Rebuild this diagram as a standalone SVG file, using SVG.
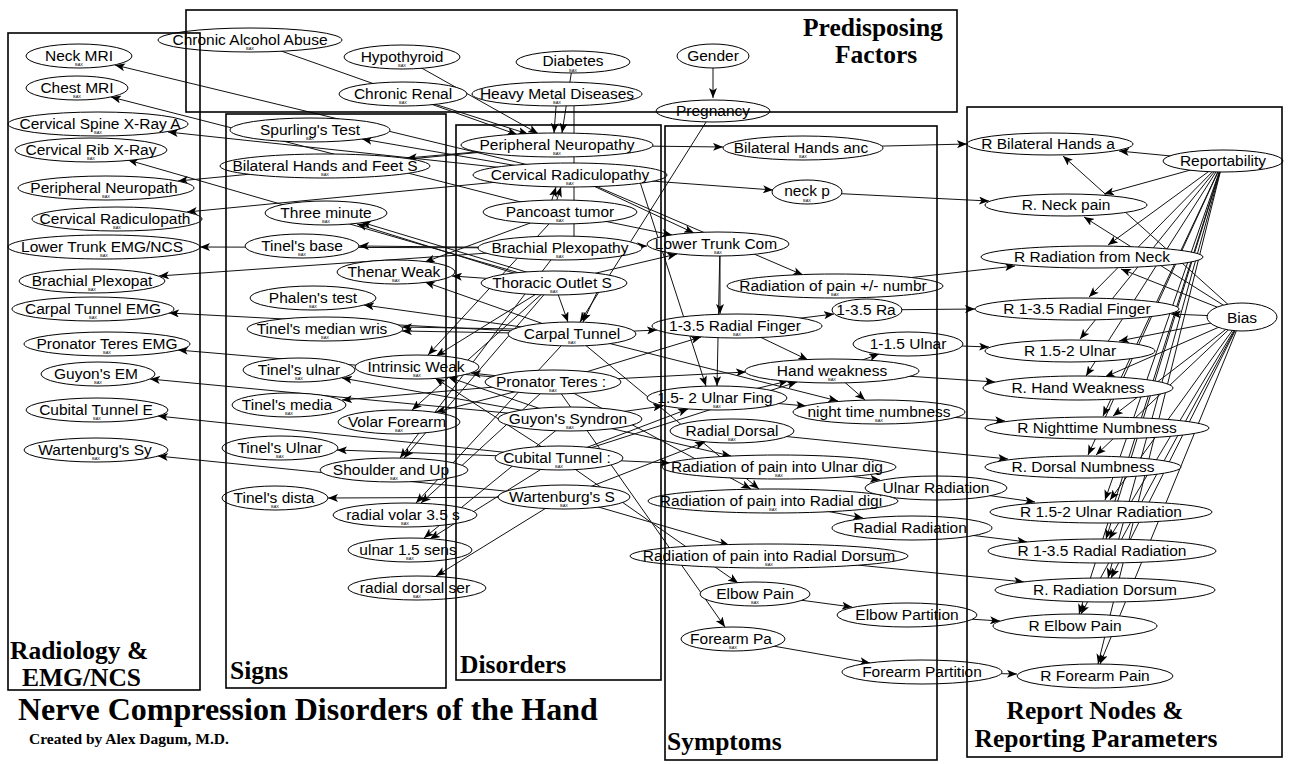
<svg xmlns="http://www.w3.org/2000/svg" width="1291" height="764" viewBox="0 0 1291 764">
<defs>
<marker id="ah" viewBox="0 0 10 8" markerUnits="userSpaceOnUse" markerWidth="10" markerHeight="8" refX="10" refY="4" orient="auto"><path d="M0,0 L10,4 L0,8 L2.5,4 Z" fill="#000"/></marker>
</defs>
<style>
.e line{stroke:#111;stroke-width:1;fill:none}
.e .a{marker-end:url(#ah)}
.n ellipse{fill:#fff;stroke:#000;stroke-width:1}
.n text{font-family:"Liberation Sans",Arial,sans-serif;font-size:15.5px;text-anchor:middle;fill:#000}
.n text.t{font-size:4px}
.box{fill:none;stroke:#000;stroke-width:1.6}
.lbl{font-family:"Liberation Serif","Times New Roman",serif;font-weight:bold;font-size:25.5px;fill:#000}
</style>
<rect width="1291" height="764" fill="#fff"/>
<g id="connectors" class="e">
<line class="a" x1="250" y1="40" x2="517" y2="134.5"/>
<line class="a" x1="402" y1="57" x2="538" y2="133.5"/>
<line class="a" x1="403" y1="94" x2="528" y2="134"/>
<line class="a" x1="573" y1="62" x2="562" y2="133"/>
<line class="a" x1="557" y1="94" x2="554" y2="133"/>
<line x1="574" y1="100" x2="574" y2="240"/>
<line class="a" x1="713" y1="56" x2="713" y2="98"/>
<line class="a" x1="713" y1="111" x2="580" y2="322"/>
<line class="a" x1="570" y1="175" x2="115" y2="65"/>
<line class="a" x1="560" y1="212" x2="111" y2="97"/>
<line class="a" x1="570" y1="175" x2="168" y2="132"/>
<line class="a" x1="554" y1="283" x2="128" y2="160"/>
<line class="a" x1="557" y1="145" x2="178" y2="181"/>
<line class="a" x1="570" y1="175" x2="187" y2="212"/>
<line class="a" x1="560" y1="248" x2="200" y2="247"/>
<line class="a" x1="560" y1="248" x2="159" y2="276"/>
<line class="a" x1="572" y1="334" x2="169" y2="313"/>
<line class="a" x1="553" y1="382" x2="178" y2="350"/>
<line class="a" x1="570" y1="419" x2="150" y2="379"/>
<line class="a" x1="559" y1="458" x2="158" y2="416"/>
<line class="a" x1="564" y1="497" x2="158" y2="456"/>
<line class="a" x1="570" y1="175" x2="362" y2="139"/>
<line class="a" x1="557" y1="145" x2="407" y2="158"/>
<line class="a" x1="552" y1="285" x2="357" y2="224"/>
<line class="a" x1="556" y1="281" x2="361" y2="222"/>
<line class="a" x1="560" y1="248" x2="359" y2="246"/>
<line class="a" x1="554" y1="283" x2="452" y2="276"/>
<line class="a" x1="572" y1="334" x2="425" y2="282"/>
<line class="a" x1="560" y1="212" x2="425" y2="262"/>
<line class="a" x1="572" y1="334" x2="364" y2="305"/>
<line class="a" x1="572" y1="334" x2="402" y2="331"/>
<line class="a" x1="572" y1="330" x2="402" y2="327"/>
<line class="a" x1="570" y1="419" x2="448" y2="377"/>
<line class="a" x1="559" y1="458" x2="435" y2="378"/>
<line class="a" x1="554" y1="283" x2="436" y2="356"/>
<line class="a" x1="560" y1="212" x2="428" y2="355"/>
<line class="a" x1="553" y1="382" x2="471" y2="373"/>
<line class="a" x1="570" y1="419" x2="342" y2="378"/>
<line class="a" x1="553" y1="382" x2="342" y2="400"/>
<line class="a" x1="553" y1="382" x2="436" y2="412"/>
<line class="a" x1="554" y1="283" x2="412" y2="410"/>
<line class="a" x1="559" y1="458" x2="337" y2="450"/>
<line class="a" x1="554" y1="283" x2="404" y2="458"/>
<line class="a" x1="560" y1="248" x2="400" y2="458"/>
<line class="a" x1="564" y1="497" x2="328" y2="498"/>
<line class="a" x1="572" y1="334" x2="416" y2="503"/>
<line class="a" x1="553" y1="382" x2="421" y2="503"/>
<line class="a" x1="570" y1="419" x2="424" y2="538"/>
<line class="a" x1="559" y1="458" x2="430" y2="539"/>
<line class="a" x1="564" y1="497" x2="436" y2="576"/>
<line class="a" x1="548" y1="212" x2="556" y2="187"/>
<line class="a" x1="553" y1="212" x2="561" y2="187"/>
<line class="a" x1="554" y1="283" x2="568" y2="322"/>
<line class="a" x1="600" y1="286" x2="583" y2="322"/>
<line class="a" x1="557" y1="145" x2="723" y2="147"/>
<line class="a" x1="803" y1="148" x2="967" y2="144"/>
<line class="a" x1="570" y1="175" x2="773" y2="190"/>
<line class="a" x1="807" y1="192" x2="989" y2="201"/>
<line class="a" x1="560" y1="248" x2="647" y2="246"/>
<line class="a" x1="560" y1="212" x2="672" y2="235"/>
<line class="a" x1="554" y1="283" x2="677" y2="254"/>
<line class="a" x1="570" y1="175" x2="694" y2="233"/>
<line class="a" x1="570" y1="175" x2="803" y2="275"/>
<line class="a" x1="720" y1="244" x2="720" y2="314"/>
<line class="a" x1="720" y1="244" x2="717" y2="386"/>
<line class="a" x1="640" y1="182" x2="706" y2="386"/>
<line class="a" x1="572" y1="334" x2="657" y2="330"/>
<line class="a" x1="553" y1="382" x2="701" y2="337"/>
<line class="a" x1="737" y1="326" x2="834" y2="314"/>
<line class="a" x1="867" y1="310" x2="975" y2="309"/>
<line class="a" x1="737" y1="326" x2="808" y2="360"/>
<line class="a" x1="832" y1="371" x2="879" y2="354"/>
<line class="a" x1="908" y1="344" x2="989" y2="347"/>
<line class="a" x1="832" y1="371" x2="865" y2="400"/>
<line class="a" x1="832" y1="371" x2="995" y2="382"/>
<line class="a" x1="717" y1="398" x2="788" y2="381"/>
<line class="a" x1="553" y1="382" x2="746" y2="372"/>
<line class="a" x1="559" y1="458" x2="797" y2="382"/>
<line class="a" x1="717" y1="398" x2="806" y2="406"/>
<line class="a" x1="879" y1="412" x2="1005" y2="421"/>
<line class="a" x1="572" y1="334" x2="838" y2="401"/>
<line class="a" x1="570" y1="419" x2="663" y2="406"/>
<line class="a" x1="559" y1="458" x2="688" y2="409"/>
<line class="a" x1="564" y1="497" x2="705" y2="442"/>
<line class="a" x1="732" y1="431" x2="1008" y2="459"/>
<line class="a" x1="559" y1="458" x2="670" y2="463"/>
<line class="a" x1="570" y1="419" x2="731" y2="456"/>
<line class="a" x1="779" y1="467" x2="880" y2="480"/>
<line class="a" x1="572" y1="334" x2="759" y2="489"/>
<line class="a" x1="553" y1="382" x2="751" y2="489"/>
<line class="a" x1="773" y1="501" x2="863" y2="518"/>
<line class="a" x1="936" y1="488" x2="1035" y2="502"/>
<line class="a" x1="912" y1="528" x2="1027" y2="542"/>
<line class="a" x1="564" y1="497" x2="729" y2="545"/>
<line class="a" x1="769" y1="556" x2="1024" y2="582"/>
<line class="a" x1="559" y1="458" x2="738" y2="583"/>
<line class="a" x1="755" y1="594" x2="852" y2="607"/>
<line class="a" x1="907" y1="615" x2="1000" y2="621"/>
<line class="a" x1="553" y1="382" x2="725" y2="627"/>
<line class="a" x1="733" y1="639" x2="870" y2="663"/>
<line class="a" x1="922" y1="672" x2="1017" y2="674"/>
<line class="a" x1="835" y1="286" x2="1015" y2="266"/>
<line class="a" x1="1223" y1="161" x2="1119" y2="151"/>
<line class="a" x1="1223" y1="161" x2="1104" y2="194"/>
<line class="a" x1="1223" y1="161" x2="1108" y2="245"/>
<line class="a" x1="1223" y1="161" x2="1089" y2="297"/>
<line class="a" x1="1223" y1="161" x2="1080" y2="339"/>
<line class="a" x1="1223" y1="161" x2="1086" y2="376"/>
<line class="a" x1="1223" y1="161" x2="1103" y2="416"/>
<line class="a" x1="1223" y1="161" x2="1088" y2="455"/>
<line class="a" x1="1223" y1="161" x2="1105" y2="500"/>
<line class="a" x1="1223" y1="161" x2="1106" y2="539"/>
<line class="a" x1="1223" y1="161" x2="1108" y2="578"/>
<line class="a" x1="1223" y1="161" x2="1079" y2="614"/>
<line class="a" x1="1223" y1="161" x2="1098" y2="664"/>
<line class="a" x1="1242" y1="317" x2="1063" y2="156"/>
<line class="a" x1="1242" y1="317" x2="1084" y2="217"/>
<line class="a" x1="1242" y1="317" x2="1121" y2="269"/>
<line class="a" x1="1242" y1="317" x2="1171" y2="314"/>
<line class="a" x1="1242" y1="317" x2="1119" y2="341"/>
<line class="a" x1="1242" y1="317" x2="1105" y2="377"/>
<line class="a" x1="1242" y1="317" x2="1113" y2="416"/>
<line class="a" x1="1242" y1="317" x2="1096" y2="455"/>
<line class="a" x1="1242" y1="317" x2="1110" y2="500"/>
<line class="a" x1="1242" y1="317" x2="1109" y2="539"/>
<line class="a" x1="1242" y1="317" x2="1111" y2="578"/>
<line class="a" x1="1242" y1="317" x2="1081" y2="614"/>
<line class="a" x1="1242" y1="317" x2="1100" y2="664"/>
</g>
<g id="nodes">
<g id="n-alcohol" class="n"><ellipse cx="250" cy="40" rx="92" ry="12"/><text x="250" y="45">Chronic Alcohol Abuse</text><text class="t" x="250" y="50">BAX</text></g>
<g id="n-hypothyroid" class="n"><ellipse cx="402" cy="57" rx="58" ry="12"/><text x="402" y="62">Hypothyroid</text><text class="t" x="402" y="67">BAX</text></g>
<g id="n-renal" class="n"><ellipse cx="403" cy="94" rx="64" ry="12"/><text x="403" y="99">Chronic Renal</text><text class="t" x="403" y="104">BAX</text></g>
<g id="n-diabetes" class="n"><ellipse cx="573" cy="62" rx="57" ry="11"/><text x="573" y="66">Diabetes</text><text class="t" x="573" y="72">BAX</text></g>
<g id="n-heavy" class="n"><ellipse cx="557" cy="94" rx="85" ry="12"/><text x="557" y="99">Heavy Metal Diseases</text><text class="t" x="557" y="104">BAX</text></g>
<g id="n-gender" class="n"><ellipse cx="713" cy="56" rx="36" ry="12"/><text x="713" y="61">Gender</text></g>
<g id="n-pregnancy" class="n"><ellipse cx="713" cy="111" rx="57" ry="11"/><text x="713" y="116">Pregnancy</text></g>
<g id="n-neckmri" class="n"><ellipse cx="79" cy="56" rx="53" ry="12"/><text x="79" y="61">Neck MRI</text><text class="t" x="79" y="66">BAX</text></g>
<g id="n-chestmri" class="n"><ellipse cx="77" cy="88" rx="51" ry="12"/><text x="77" y="93">Chest MRI</text><text class="t" x="77" y="98">BAX</text></g>
<g id="n-cspine" class="n"><ellipse cx="98" cy="124" rx="90" ry="12"/><text x="100" y="129">Cervical Spine X-Ray A</text><text class="t" x="98" y="134">BAX</text></g>
<g id="n-crib" class="n"><ellipse cx="91" cy="150" rx="76" ry="12"/><text x="91" y="155">Cervical Rib X-Ray</text><text class="t" x="91" y="160">BAX</text></g>
<g id="n-rpn" class="n"><ellipse cx="106" cy="188" rx="88" ry="12"/><text x="104" y="193">Peripheral Neuropath</text><text class="t" x="106" y="198">BAX</text></g>
<g id="n-rcr" class="n"><ellipse cx="117" cy="219" rx="85" ry="12"/><text x="115" y="224">Cervical Radiculopath</text><text class="t" x="117" y="229">BAX</text></g>
<g id="n-rlt" class="n"><ellipse cx="104" cy="247" rx="96" ry="12"/><text x="102" y="252">Lower Trunk EMG/NCS</text><text class="t" x="104" y="257">BAX</text></g>
<g id="n-rbp" class="n"><ellipse cx="92" cy="281" rx="73" ry="12"/><text x="92" y="286">Brachial Plexopat</text><text class="t" x="92" y="291">BAX</text></g>
<g id="n-rct" class="n"><ellipse cx="93" cy="309" rx="81" ry="12"/><text x="93" y="314">Carpal Tunnel EMG</text><text class="t" x="93" y="319">BAX</text></g>
<g id="n-rpt" class="n"><ellipse cx="107" cy="344" rx="83" ry="12"/><text x="107" y="349">Pronator Teres EMG</text><text class="t" x="107" y="354">BAX</text></g>
<g id="n-rguy" class="n"><ellipse cx="98" cy="374" rx="57" ry="12"/><text x="96" y="379">Guyon's EM</text><text class="t" x="98" y="384">BAX</text></g>
<g id="n-rcub" class="n"><ellipse cx="97" cy="410" rx="71" ry="12"/><text x="96" y="415">Cubital Tunnel E</text><text class="t" x="97" y="420">BAX</text></g>
<g id="n-rwar" class="n"><ellipse cx="96" cy="450" rx="72" ry="12"/><text x="95" y="455">Wartenburg's Sy</text><text class="t" x="96" y="460">BAX</text></g>
<g id="n-spurling" class="n"><ellipse cx="310" cy="130" rx="80" ry="12"/><text x="310" y="135">Spurling's Test</text><text class="t" x="310" y="140">BAX</text></g>
<g id="n-bilfeet" class="n"><ellipse cx="325" cy="166" rx="105" ry="12"/><text x="325" y="171">Bilateral Hands and Feet S</text><text class="t" x="325" y="176">BAX</text></g>
<g id="n-three" class="n"><ellipse cx="326" cy="213" rx="61" ry="12"/><text x="326" y="218">Three minute</text><text class="t" x="326" y="223">BAX</text></g>
<g id="n-tbase" class="n"><ellipse cx="302" cy="246" rx="57" ry="12"/><text x="302" y="251">Tinel's base</text><text class="t" x="302" y="256">BAX</text></g>
<g id="n-thenar" class="n"><ellipse cx="396" cy="272" rx="59" ry="12"/><text x="394" y="277">Thenar Weak</text><text class="t" x="396" y="282">BAX</text></g>
<g id="n-phalen" class="n"><ellipse cx="313" cy="298" rx="63" ry="12"/><text x="313" y="303">Phalen's test</text><text class="t" x="313" y="308">BAX</text></g>
<g id="n-tmw" class="n"><ellipse cx="325" cy="329" rx="78" ry="12"/><text x="322" y="334">Tinel's median wris</text><text class="t" x="325" y="339">BAX</text></g>
<g id="n-intr" class="n"><ellipse cx="417" cy="367" rx="62" ry="12"/><text x="416" y="372">Intrinsic Weak</text><text class="t" x="417" y="377">BAX</text></g>
<g id="n-tul" class="n"><ellipse cx="299" cy="370" rx="56" ry="12"/><text x="299" y="375">Tinel's ulnar</text><text class="t" x="299" y="380">BAX</text></g>
<g id="n-tmed" class="n"><ellipse cx="289" cy="405" rx="57" ry="12"/><text x="287" y="410">Tinel's media</text><text class="t" x="289" y="415">BAX</text></g>
<g id="n-volar" class="n"><ellipse cx="399" cy="422" rx="61" ry="12"/><text x="397" y="427">Volar Forearm</text><text class="t" x="399" y="432">BAX</text></g>
<g id="n-tUl" class="n"><ellipse cx="280" cy="448" rx="58" ry="12"/><text x="280" y="453">Tinel's Ulnar</text><text class="t" x="280" y="458">BAX</text></g>
<g id="n-shoulder" class="n"><ellipse cx="394" cy="470" rx="74" ry="12"/><text x="391" y="475">Shoulder and Up</text><text class="t" x="394" y="480">BAX</text></g>
<g id="n-tdist" class="n"><ellipse cx="275" cy="498" rx="53" ry="12"/><text x="274" y="503">Tinel's dista</text><text class="t" x="275" y="508">BAX</text></g>
<g id="n-rvolar" class="n"><ellipse cx="405" cy="515" rx="72" ry="12"/><text x="403" y="520">radial volar 3.5 s</text><text class="t" x="405" y="525">BAX</text></g>
<g id="n-u15" class="n"><ellipse cx="410" cy="550" rx="62" ry="12"/><text x="408" y="555">ulnar 1.5 sens</text><text class="t" x="410" y="560">BAX</text></g>
<g id="n-rdorsal" class="n"><ellipse cx="417" cy="588" rx="69" ry="12"/><text x="415" y="593">radial dorsal ser</text><text class="t" x="417" y="598">BAX</text></g>
<g id="n-dpn" class="n"><ellipse cx="557" cy="145" rx="96" ry="12"/><text x="557" y="150">Peripheral Neuropathy</text><text class="t" x="557" y="155">BAX</text></g>
<g id="n-dcr" class="n"><ellipse cx="570" cy="175" rx="97" ry="12"/><text x="570" y="180">Cervical Radiculopathy</text><text class="t" x="570" y="185">BAX</text></g>
<g id="n-dpan" class="n"><ellipse cx="560" cy="212" rx="77" ry="12"/><text x="560" y="217">Pancoast tumor</text><text class="t" x="560" y="222">BAX</text></g>
<g id="n-dbp" class="n"><ellipse cx="560" cy="248" rx="82" ry="12"/><text x="560" y="253">Brachial Plexopathy</text><text class="t" x="560" y="258">BAX</text></g>
<g id="n-dto" class="n"><ellipse cx="554" cy="283" rx="73" ry="12"/><text x="552" y="288">Thoracic Outlet S</text><text class="t" x="554" y="293">BAX</text></g>
<g id="n-dct" class="n"><ellipse cx="572" cy="334" rx="64" ry="12"/><text x="572" y="339">Carpal Tunnel</text><text class="t" x="572" y="344">BAX</text></g>
<g id="n-dpt" class="n"><ellipse cx="553" cy="382" rx="68" ry="12"/><text x="551" y="387">Pronator Teres :</text><text class="t" x="553" y="392">BAX</text></g>
<g id="n-dguy" class="n"><ellipse cx="570" cy="419" rx="72" ry="12"/><text x="568" y="424">Guyon's Syndron</text><text class="t" x="570" y="429">BAX</text></g>
<g id="n-dcub" class="n"><ellipse cx="559" cy="458" rx="64" ry="12"/><text x="557" y="463">Cubital Tunnel :</text><text class="t" x="559" y="468">BAX</text></g>
<g id="n-dwar" class="n"><ellipse cx="564" cy="497" rx="66" ry="12"/><text x="562" y="502">Wartenburg's S</text><text class="t" x="564" y="507">BAX</text></g>
<g id="n-ybil" class="n"><ellipse cx="803" cy="148" rx="80" ry="12"/><text x="801" y="153">Bilateral Hands anc</text><text class="t" x="803" y="158">BAX</text></g>
<g id="n-yneck" class="n"><ellipse cx="807" cy="192" rx="35" ry="12"/><text x="807" y="196">neck p</text><text class="t" x="807" y="202">BAX</text></g>
<g id="n-ylt" class="n"><ellipse cx="718" cy="244" rx="71" ry="12"/><text x="716" y="249">Lower Trunk Com</text><text class="t" x="718" y="254">BAX</text></g>
<g id="n-yrad" class="n"><ellipse cx="835" cy="286" rx="108" ry="12"/><text x="833" y="291">Radiation of pain +/- numbr</text><text class="t" x="835" y="296">BAX</text></g>
<g id="n-y135a" class="n"><ellipse cx="867" cy="310" rx="35" ry="11"/><text x="866" y="315">1-3.5 Ra</text></g>
<g id="n-y135" class="n"><ellipse cx="737" cy="326" rx="85" ry="12"/><text x="735" y="331">1-3.5 Radial Finger</text><text class="t" x="737" y="336">BAX</text></g>
<g id="n-y115" class="n"><ellipse cx="908" cy="344" rx="55" ry="12"/><text x="908" y="349">1-1.5 Ulnar</text></g>
<g id="n-yhw" class="n"><ellipse cx="832" cy="371" rx="87" ry="12"/><text x="832" y="376">Hand weakness</text><text class="t" x="832" y="381">BAX</text></g>
<g id="n-y152" class="n"><ellipse cx="717" cy="398" rx="70" ry="12"/><text x="715" y="403">1.5- 2 Ulnar Fing</text><text class="t" x="717" y="408">BAX</text></g>
<g id="n-yntn" class="n"><ellipse cx="879" cy="412" rx="86" ry="12"/><text x="879" y="417">night time numbness</text><text class="t" x="879" y="422">BAX</text></g>
<g id="n-yrdors" class="n"><ellipse cx="732" cy="431" rx="62" ry="12"/><text x="732" y="436">Radial Dorsal</text><text class="t" x="732" y="441">BAX</text></g>
<g id="n-yrud" class="n"><ellipse cx="779" cy="467" rx="117" ry="12"/><text x="777" y="472">Radiation of pain into Ulnar dig</text><text class="t" x="779" y="477">BAX</text></g>
<g id="n-yurad" class="n"><ellipse cx="936" cy="488" rx="71" ry="12"/><text x="936" y="493">Ulnar Radiation</text></g>
<g id="n-yrrd" class="n"><ellipse cx="773" cy="501" rx="125" ry="12"/><text x="771" y="506">Radiation of pain into Radial digi</text><text class="t" x="773" y="511">BAX</text></g>
<g id="n-yrrad" class="n"><ellipse cx="912" cy="528" rx="80" ry="12"/><text x="910" y="533">Radial Radiation</text></g>
<g id="n-yrdor" class="n"><ellipse cx="769" cy="556" rx="139" ry="12"/><text x="769" y="561">Radiation of pain into Radial Dorsum</text><text class="t" x="769" y="566">BAX</text></g>
<g id="n-yelb" class="n"><ellipse cx="755" cy="594" rx="55" ry="12"/><text x="755" y="599">Elbow Pain</text><text class="t" x="755" y="604">BAX</text></g>
<g id="n-yelbp" class="n"><ellipse cx="907" cy="615" rx="70" ry="12"/><text x="907" y="620">Elbow Partition</text></g>
<g id="n-yfa" class="n"><ellipse cx="733" cy="639" rx="52" ry="12"/><text x="731" y="644">Forearm Pa</text><text class="t" x="733" y="649">BAX</text></g>
<g id="n-yfap" class="n"><ellipse cx="922" cy="672" rx="80" ry="12"/><text x="922" y="677">Forearm Partition</text></g>
<g id="n-pbil" class="n"><ellipse cx="1050" cy="144" rx="83" ry="11"/><text x="1048" y="149">R Bilateral Hands a</text></g>
<g id="n-rep" class="n"><ellipse cx="1223" cy="161" rx="60" ry="11"/><text x="1223" y="166">Reportability</text></g>
<g id="n-pneck" class="n"><ellipse cx="1066" cy="205" rx="81" ry="11"/><text x="1066" y="210">R. Neck pain</text></g>
<g id="n-prfn" class="n"><ellipse cx="1092" cy="257" rx="111" ry="11"/><text x="1092" y="262">R Radiation from Neck</text></g>
<g id="n-p135" class="n"><ellipse cx="1077" cy="309" rx="102" ry="11"/><text x="1077" y="314">R 1-3.5 Radial Finger</text></g>
<g id="n-bias" class="n"><ellipse cx="1242" cy="317" rx="35" ry="14"/><text x="1242" y="323">Bias</text></g>
<g id="n-p152" class="n"><ellipse cx="1070" cy="351" rx="85" ry="11"/><text x="1070" y="356">R 1.5-2 Ulnar</text></g>
<g id="n-phw" class="n"><ellipse cx="1078" cy="388" rx="95" ry="12"/><text x="1078" y="393">R. Hand Weakness</text></g>
<g id="n-pntn" class="n"><ellipse cx="1097" cy="428" rx="112" ry="11"/><text x="1097" y="433">R Nighttime Numbness</text></g>
<g id="n-pdn" class="n"><ellipse cx="1083" cy="467" rx="98" ry="11"/><text x="1083" y="472">R. Dorsal Numbness</text></g>
<g id="n-pur" class="n"><ellipse cx="1101" cy="512" rx="111" ry="11"/><text x="1101" y="517">R 1.5-2 Ulnar Radiation</text></g>
<g id="n-prr" class="n"><ellipse cx="1102" cy="551" rx="114" ry="12"/><text x="1102" y="556">R 1-3.5 Radial Radiation</text></g>
<g id="n-prd" class="n"><ellipse cx="1105" cy="590" rx="110" ry="12"/><text x="1105" y="595">R. Radiation Dorsum</text></g>
<g id="n-pelb" class="n"><ellipse cx="1075" cy="626" rx="82" ry="12"/><text x="1075" y="631">R Elbow Pain</text></g>
<g id="n-pfa" class="n"><ellipse cx="1095" cy="676" rx="78" ry="12"/><text x="1095" y="681">R Forearm Pain</text></g>
</g>
<g id="frames">
<rect class="box" x="186" y="10" width="771" height="102"/>
<rect class="box" x="8" y="33" width="192" height="657"/>
<rect class="box" x="226" y="114" width="220" height="574"/>
<rect class="box" x="456" y="125" width="205" height="555"/>
<rect class="box" x="665" y="126" width="272" height="634"/>
<rect class="box" x="967" y="107" width="315" height="650"/>
</g>
<g id="labels">
<text class="lbl" x="803" y="36">Predisposing</text>
<text class="lbl" x="835" y="63">Factors</text>
<text class="lbl" x="10" y="659">Radiology &amp;</text>
<text class="lbl" x="22" y="686">EMG/NCS</text>
<text class="lbl" x="230" y="679">Signs</text>
<text class="lbl" x="460" y="673">Disorders</text>
<text class="lbl" x="667" y="750">Symptoms</text>
<text class="lbl" x="1095" y="719" text-anchor="middle">Report Nodes &amp;</text>
<text class="lbl" x="1096" y="747" text-anchor="middle">Reporting Parameters</text>
<text class="lbl" x="18" y="720" style="font-size:32px">Nerve Compression Disorders of the Hand</text>
<text class="lbl" x="29" y="744" style="font-size:15.5px">Created by Alex Dagum, M.D.</text>
</g>
</svg>
